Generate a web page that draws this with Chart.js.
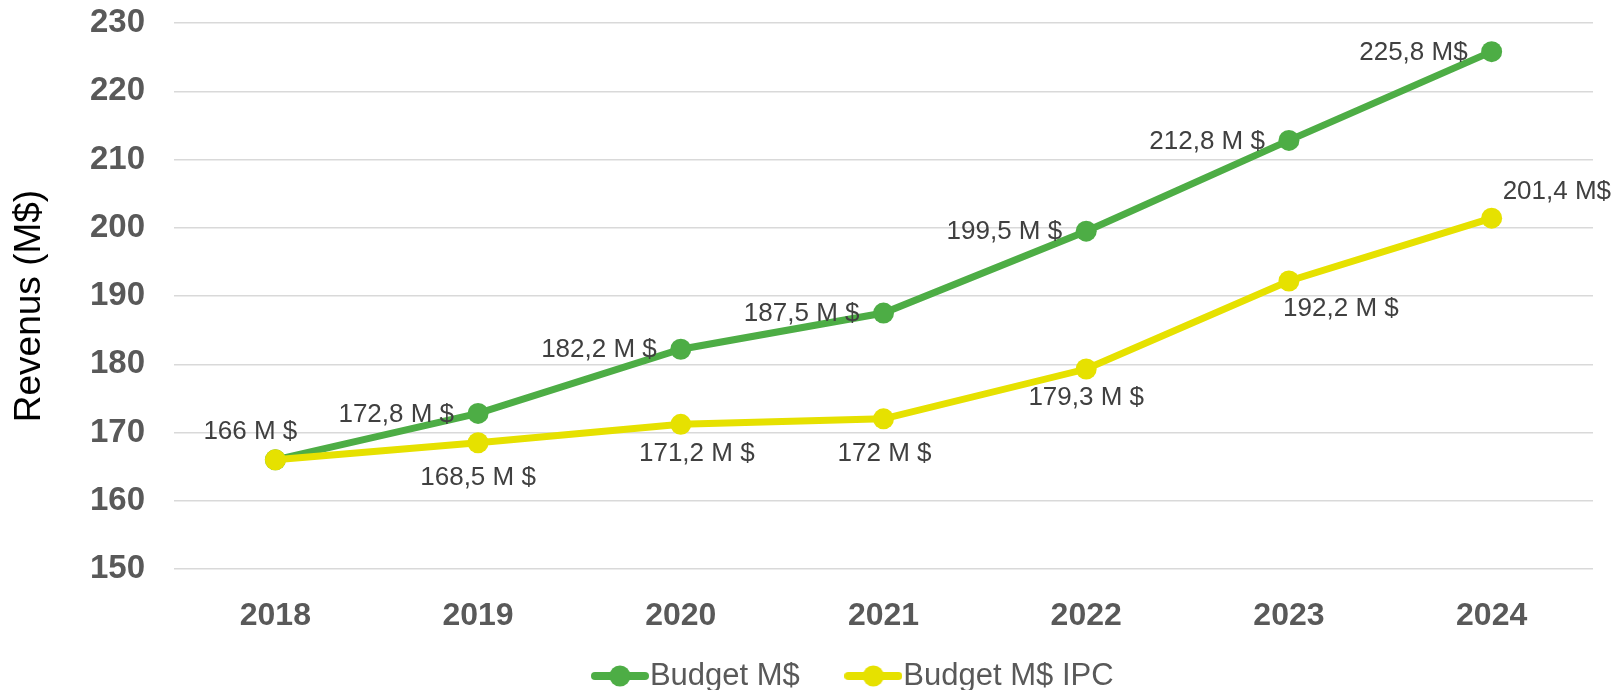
<!DOCTYPE html>
<html>
<head>
<meta charset="utf-8">
<script src="https://cdn.jsdelivr.net/npm/chart.js@4.4.1/dist/chart.umd.min.js"></script>
<style>
  html, body { margin: 0; padding: 0; background: #ffffff; }
  canvas { display: block; }
</style>
</head>
<body>
<canvas id="chart" width="1616" height="690"></canvas>
<script>
// ---- data ----
const years = ['2018', '2019', '2020', '2021', '2022', '2023', '2024'];
const budget = [166, 172.8, 182.2, 187.5, 199.5, 212.8, 225.8];
const budgetIpc = [166, 168.5, 171.2, 172, 179.3, 192.2, 201.4];
const budgetText = ['', '172,8 M $', '182,2 M $', '187,5 M $', '199,5 M $', '212,8 M $', '225,8 M$'];
const budgetIpcText = ['166 M $', '168,5 M $', '171,2 M $', '172 M $', '179,3 M $', '192,2 M $', '201,4 M$'];
const seriesNames = ['Budget M$', 'Budget M$ IPC'];
const yMin = 150;
const yMax = 230;
const yStep = 10;
const yTitle = 'Revenus (M$)';

// ---- styles ----
const FONT = '"Liberation Sans", Arial, Helvetica, sans-serif';
const GREEN = '#4DAD45';
const YELLOW = '#E6E100';

// label placement relative to each point (style, not data)
const labelPlacement = [
  [null,
   {align: 'right', dx: -24, dy: 1}, {align: 'right', dx: -24, dy: 1}, {align: 'right', dx: -24, dy: 1},
   {align: 'right', dx: -24, dy: 1}, {align: 'right', dx: -24, dy: 1}, {align: 'right', dx: -24, dy: 1}],
  [{align: 'center', dx: -25, dy: -28},
   {align: 'center', dx: 0, dy: 35}, {align: 'center', dx: 16, dy: 30}, {align: 'center', dx: 1, dy: 35},
   {align: 'center', dx: 0, dy: 29}, {align: 'center', dx: 52, dy: 28}, {align: 'left', dx: 11, dy: -26}]
];
const labelTexts = [budgetText, budgetIpcText];

function makeIcon(color) {
  const c = document.createElement('canvas');
  c.width = 58; c.height = 24;
  const g = c.getContext('2d');
  g.strokeStyle = color; g.lineWidth = 8; g.lineCap = 'round';
  g.beginPath(); g.moveTo(4, 12); g.lineTo(54, 12); g.stroke();
  g.fillStyle = color;
  g.beginPath(); g.arc(29, 12, 10.5, 0, Math.PI * 2); g.fill();
  return c;
}
const icons = [makeIcon(GREEN), makeIcon(YELLOW)];

const pointLabels = {
  id: 'pointLabels',
  afterDatasetsDraw(chart) {
    const ctx = chart.ctx;
    ctx.save();
    ctx.font = '26px ' + FONT;
    ctx.fillStyle = '#404040';
    ctx.textBaseline = 'middle';
    chart.data.datasets.forEach((ds, di) => {
      const meta = chart.getDatasetMeta(di);
      meta.data.forEach((pt, i) => {
        const txt = labelTexts[di][i];
        const pl = labelPlacement[di][i];
        if (!txt || !pl) return;
        ctx.textAlign = pl.align;
        ctx.fillText(txt, pt.x + pl.dx, pt.y + pl.dy);
      });
    });
    ctx.restore();
  }
};

// layout tweaks: move the legend row, and lower the y-axis title a little
const layoutTweaks = {
  id: 'layoutTweaks',
  afterLayout(chart) {
    const lg = chart.legend;
    if (lg) {
      lg.left += 63; lg.right += 63;
      lg.top = lg.bottom - 88.5;
      lg.height = lg.bottom - lg.top;
    }
    const y = chart.scales.y;
    if (y) { y.bottom += 20; }
  }
};

Chart.defaults.font.family = FONT;

new Chart(document.getElementById('chart'), {
  type: 'line',
  data: {
    labels: years,
    datasets: [
      {
        label: seriesNames[0],
        data: budget,
        borderColor: GREEN,
        backgroundColor: GREEN,
        borderWidth: 7,
        pointRadius: 10.5,
        pointHoverRadius: 10.5,
        pointBorderWidth: 0,
        pointBackgroundColor: GREEN,
        tension: 0,
        order: 2
      },
      {
        label: seriesNames[1],
        data: budgetIpc,
        borderColor: YELLOW,
        backgroundColor: YELLOW,
        borderWidth: 7,
        pointRadius: 10.5,
        pointHoverRadius: 10.5,
        pointBorderWidth: 0,
        pointBackgroundColor: YELLOW,
        tension: 0,
        order: 1
      }
    ]
  },
  options: {
    responsive: false,
    animation: false,
    layout: { padding: { top: 23, right: 23, bottom: 0, left: 0 } },
    plugins: {
      tooltip: { enabled: false },
      legend: {
        position: 'bottom',
        maxHeight: 30,
        labels: {
          usePointStyle: true,
          pointStyleWidth: 29,
          padding: 59,
          color: '#595959',
          font: { size: 31, family: FONT },
          sort: (a, b) => a.datasetIndex - b.datasetIndex,
          generateLabels(chart) {
            const items = Chart.defaults.plugins.legend.labels.generateLabels(chart);
            items.forEach(it => { it.pointStyle = icons[it.datasetIndex]; });
            return items;
          }
        }
      }
    },
    scales: {
      x: {
        offset: true,
        grid: { display: false },
        border: { display: false },
        ticks: {
          color: '#595959',
          padding: 20,
          font: { size: 32, weight: 'bold', family: FONT }
        },
        afterFit(scale) { scale.height = 91; }
      },
      y: {
        min: yMin,
        max: yMax,
        border: { display: false },
        grid: { color: '#D9D9D9', lineWidth: 1.5, drawTicks: true, tickLength: 29, tickColor: 'rgba(0,0,0,0)' },
        ticks: {
          stepSize: yStep,
          color: '#595959',
          padding: 0,
          font: { size: 33, weight: 'bold', family: FONT }
        },
        title: {
          display: true,
          text: yTitle,
          color: '#000000',
          padding: { top: 8, bottom: 0 },
          font: { size: 37, family: FONT }
        },
        afterFit(scale) { scale.width = 174; }
      }
    }
  },
  plugins: [pointLabels, layoutTweaks]
});
</script>
</body>
</html>
